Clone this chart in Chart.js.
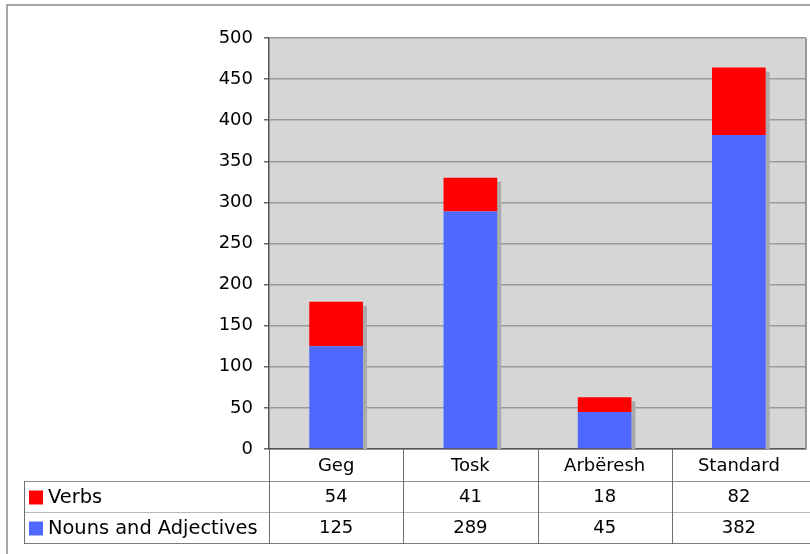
<!DOCTYPE html>
<html>
<head>
<meta charset="utf-8">
<script src="https://cdn.jsdelivr.net/npm/chart.js@4/dist/chart.umd.min.js"></script>
<style>
  html, body { margin: 0; padding: 0; background: #fff; }
  canvas { display: block; }
</style>
</head>
<body>
<canvas id="chart" width="810" height="554"></canvas>
<script>
// Word counts per dialect
const dialects = ['Geg', 'Tosk', 'Arbëresh', 'Standard'];
const verbs = [54, 41, 18, 82];
const nounsAdjectives = [125, 289, 45, 382];
const yMin = 0;
const yMax = 500;
const yStep = 50;

const FONT = '"DejaVu Sans", Verdana, sans-serif';
const BLUE = '#4f69ff';
const RED = '#ff0000';

// Grey plot background plus the outer frame of the page
const backdrop = {
  id: 'backdrop',
  beforeDraw(chart) {
    const { ctx, chartArea: a } = chart;
    ctx.save();
    ctx.fillStyle = '#d6d6d6';
    ctx.fillRect(a.left, a.top, a.right - a.left, a.bottom - a.top);
    ctx.strokeStyle = '#8a8a8a';
    ctx.lineWidth = 1.5;
    ctx.beginPath();
    ctx.moveTo(7, chart.height);
    ctx.lineTo(7, 5);
    ctx.lineTo(chart.width, 5);
    ctx.stroke();
    ctx.restore();
  }
};

// Drop shadow to the right of each stacked column
const columnShadow = {
  id: 'columnShadow',
  beforeDatasetsDraw(chart) {
    const { ctx, chartArea: a } = chart;
    const metas = chart.getSortedVisibleDatasetMetas();
    const top = metas[metas.length - 1];
    ctx.save();
    ctx.fillStyle = '#ababab';
    top.data.forEach((bar) => {
      const p = bar.getProps(['x', 'y', 'width'], true);
      const right = p.x + p.width / 2;
      ctx.fillRect(right, p.y + 4, 4, a.bottom - p.y - 4);
    });
    ctx.restore();
  }
};

// Plot border and the data table below the plot
const dataTable = {
  id: 'dataTable',
  afterDraw(chart) {
    const { ctx, chartArea: a, scales: { x } } = chart;
    const n = dialects.length;
    const half = (a.right - a.left) / (2 * n);
    const headTop = a.bottom;
    const r1 = headTop + 32;
    const r2 = r1 + 31;
    const r3 = r2 + 31;
    const legLeft = 24;

    ctx.save();
    // plot frame right side
    ctx.strokeStyle = '#9a9a9a';
    ctx.lineWidth = 2;
    ctx.beginPath();
    ctx.moveTo(a.right, a.top);
    ctx.lineTo(a.right, a.bottom);
    ctx.stroke();

    // horizontal table rules
    const hline = (y, x0, color, w) => {
      ctx.strokeStyle = color;
      ctx.lineWidth = w;
      ctx.beginPath();
      ctx.moveTo(x0, y);
      ctx.lineTo(chart.width, y);
      ctx.stroke();
    };
    hline(r1 + 0.5, legLeft, '#8c8c8c', 1);
    hline(r2 + 0.5, legLeft, '#b8b8b8', 1);
    hline(r3 + 0.5, legLeft, '#7a7a7a', 1);

    // vertical table rules
    ctx.strokeStyle = '#6e6e6e';
    ctx.lineWidth = 1;
    ctx.beginPath();
    ctx.moveTo(legLeft + 0.5, r1);
    ctx.lineTo(legLeft + 0.5, r3 + 1);
    for (let i = 0; i < n; i++) {
      const cx = Math.round(x.getPixelForValue(i) - half) + 0.5;
      ctx.moveTo(cx, headTop);
      ctx.lineTo(cx, r3 + 1);
    }
    ctx.stroke();

    // text
    ctx.fillStyle = '#000';
    ctx.font = '18px ' + FONT;
    ctx.textAlign = 'center';
    ctx.textBaseline = 'middle';
    const rows = [verbs, nounsAdjectives];
    const rowMid = [(r1 + r2) / 2 + 1, (r2 + r3) / 2 + 1];
    dialects.forEach((d, i) => {
      const cx = x.getPixelForValue(i);
      ctx.fillText(d, cx, (headTop + r1) / 2 + 1);
      rows.forEach((vals, r) => ctx.fillText(String(vals[i]), cx, rowMid[r]));
    });

    // legend cells
    const legend = [
      { label: 'Verbs', color: RED },
      { label: 'Nouns and Adjectives', color: BLUE }
    ];
    ctx.textAlign = 'left';
    ctx.font = '19.4px ' + FONT;
    legend.forEach((item, r) => {
      ctx.fillStyle = item.color;
      ctx.fillRect(legLeft + 5, rowMid[r] - 7, 14, 14);
      ctx.fillStyle = '#000';
      ctx.fillText(item.label, legLeft + 24, rowMid[r]);
    });
    ctx.restore();
  }
};

new Chart(document.getElementById('chart'), {
  type: 'bar',
  data: {
    labels: dialects,
    datasets: [
      { label: 'Nouns and Adjectives', data: nounsAdjectives, backgroundColor: BLUE },
      { label: 'Verbs', data: verbs, backgroundColor: RED }
    ]
  },
  options: {
    responsive: false,
    devicePixelRatio: 1,
    animation: false,
    layout: { padding: { top: 38, right: 4, left: 0, bottom: 0 } },
    datasets: { bar: { barPercentage: 0.4, categoryPercentage: 1 } },
    plugins: {
      legend: { display: false },
      tooltip: { enabled: false }
    },
    scales: {
      x: {
        stacked: true,
        grid: { display: false },
        ticks: { display: false },
        border: { display: true, color: '#555', width: 1.5 },
        afterFit(scale) { scale.height = 105; }
      },
      y: {
        stacked: true,
        min: yMin,
        max: yMax,
        ticks: {
          stepSize: yStep,
          padding: 11,
          color: '#000',
          font: { family: FONT, size: 18 }
        },
        grid: {
          color: '#999',
          lineWidth: 1.5,
          tickLength: 5,
          tickColor: '#666'
        },
        border: { display: true, color: '#555', width: 1.5 },
        afterFit(scale) { scale.width = 269; }
      }
    }
  },
  plugins: [backdrop, columnShadow, dataTable]
});
</script>
</body>
</html>
